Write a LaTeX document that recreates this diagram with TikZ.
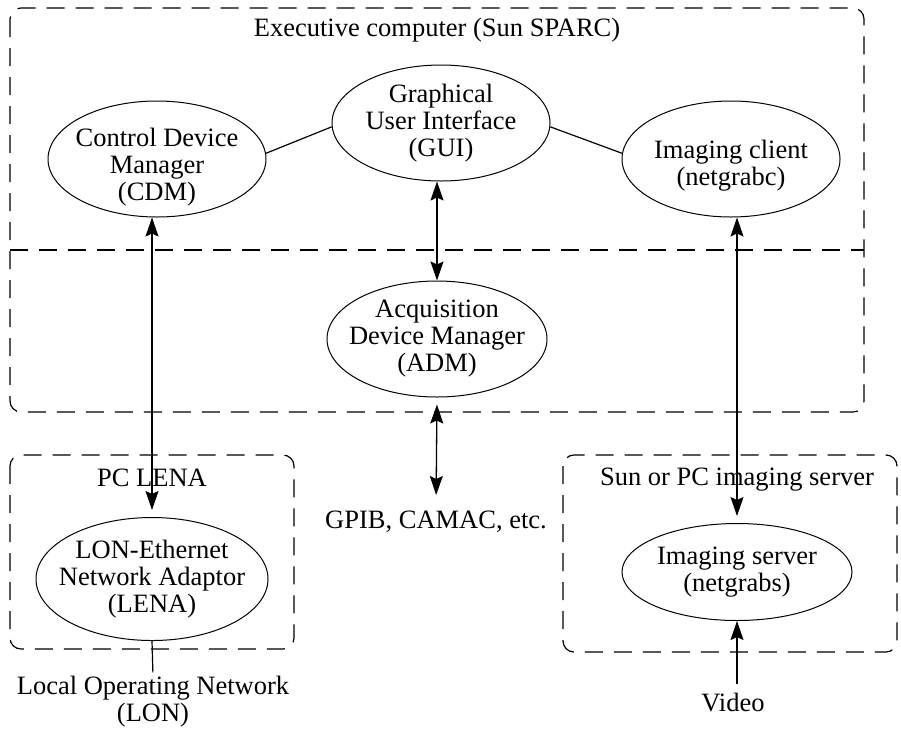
\documentclass[tikz,border=0pt]{standalone}
\usepackage{fontspec}
\setmainfont{Liberation Serif}
\usetikzlibrary{positioning}
\usetikzlibrary{arrows.meta}
\usetikzlibrary{shapes.geometric}

\tikzset{
  blob/.style={draw, ellipse, inner sep=-12pt, line width=1pt, align=center},
  grp/.style={dash pattern=on 18pt off 11pt, line width=1.2pt, rounded corners=11pt},
  lbl/.style={align=center, inner sep=0pt},
  link/.style={line width=1.2pt},
  dbl/.style={<->, line width=1.3pt},
  sgl/.style={->, line width=1.3pt},
}

\begin{document}
\begin{tikzpicture}[x=1pt, y=-1pt, font=\fontsize{26.5}{27}\selectfont,
    >={Stealth[length=19pt, width=13pt, inset=3pt]}]
		\useasboundingbox (0,0) rectangle (901,729);
		% dashed groups
		\draw[grp] (10,8) rectangle (864,412);
		\draw[grp, rounded corners=0pt] (10,250) -- (864,250);
		\draw[grp] (10,455) rectangle (294,649);
		\draw[grp] (563,455) rectangle (897,652);
		\node (exec) [lbl] at (437,30) {Executive computer (Sun SPARC)};
		\node (pclena) [lbl] at (152,478) {PC LENA};
		\node (sunpc) [lbl] at (737,480) {Sun or PC imaging server};
		% ellipses
		\node (cdm) [blob, minimum width=218pt, minimum height=116pt] at (157,159) {\rule{0pt}{34pt}Control Device\\Manager\\(CDM)};
		\node (gui) [blob, minimum width=218pt, minimum height=116pt] at (441,123) {Graphical\\User Interface\\(GUI)};
		\node (imgc) [blob, minimum width=218pt, minimum height=116pt] at (731,159) {\rule{0pt}{32pt}Imaging client\\(netgrabc)};
		\node (adm) [blob, minimum width=220pt, minimum height=116pt] at (437,339) {Acquisition\\Device Manager\\(ADM)};
		\node (lena) [blob, minimum width=232pt, minimum height=123pt] at (152,579) {LON-Ethernet\\Network Adaptor\\(LENA)};
		\node (imgs) [blob, minimum width=230pt, minimum height=97pt] at (737,572) {Imaging server\\(netgrabs)};
		% outside labels
		\node (gpib) [lbl] at (436,522) {GPIB, CAMAC, etc.};
		\node (lon) [lbl] at (153,702) {Local Operating Network\\(LON)};
		\node (video) [lbl] at (733,702) {Video};
		% connectors
		\draw[link] (cdm.3) -- (gui.182);
		\draw[link] (gui.-2) -- (imgc.177);
		\draw[dbl, shorten <=7pt] (lena.north) -- (lena.north |- cdm.south);
		\draw[dbl] (adm.north) -- (adm.north |- gui.south);
		\draw[dbl, shorten <=7pt, shorten >=16pt] (adm.south) -- (gpib.north);
		\draw[dbl, shorten >=7pt] (imgs.north |- imgc.south) -- (imgs.north);
		\draw[link, shorten >=4pt] (lena.south) -- (lon.north);
		\draw[sgl, shorten <=8pt] (video.north -| imgs.south) -- (imgs.south);
\end{tikzpicture}
\end{document}
